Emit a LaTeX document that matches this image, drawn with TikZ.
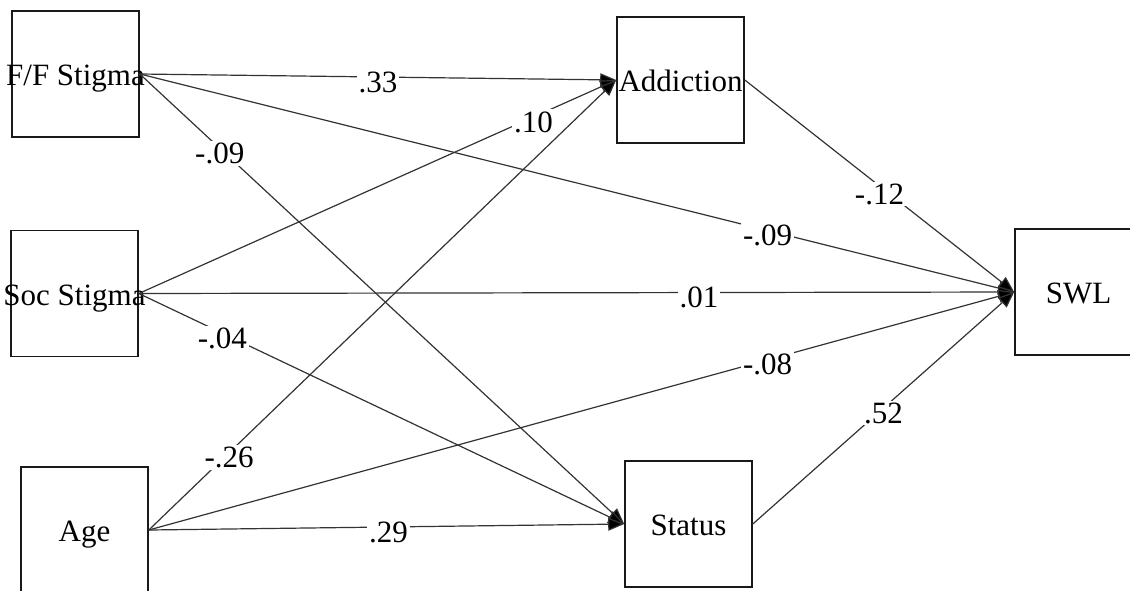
\documentclass[tikz,border=0pt]{standalone}
\usepackage{fontspec}
\setmainfont{Liberation Serif}
\usetikzlibrary{arrows.meta}
\tikzstyle{box}=[draw=black!90, line width=1.6pt, minimum width=127pt, minimum height=126pt,
  inner sep=0pt, text height=23pt, text depth=0pt, font=\fontsize{31}{36}\selectfont]
\tikzstyle{arrow}=[-{Triangle[length=16pt,width=13pt,fill=black]}, line width=1.2pt, draw=black!80]
\tikzstyle{coef}=[fill=white, inner sep=2pt, yshift=-5pt, font=\fontsize{31}{36}\selectfont]
\newcommand{\vname}[1]{\makebox[0pt]{#1}}

\begin{document}
\begin{tikzpicture}[x=1pt, y=-1pt]
      \useasboundingbox (0,0) rectangle (1130,590);

      % predictors
      \node[box] (ff)  at (75.5,74)   {\vname{F/F Stigma}};
      \node[box] (soc) at (74.5,293.5) {\vname{Soc Stigma}};
      \node[box] (age) at (84.5,530)  {\vname{Age}};

      % mediators and outcome
      \node[box] (add)  at (680.5,80)  {\vname{Addiction}};
      \node[box] (stat) at (688.5,524) {\vname{Status}};
      \node[box] (swl)  at (1078.5,292) {\vname{SWL}};

      \draw[arrow] (ff.east) -- node[coef, pos=0.5] {.33} (add.west);
      \draw[arrow] (ff.east) -- node[coef, pos=0.165] {-.09} (stat.west);
      \draw[arrow] (ff.east) -- node[coef, pos=0.718] {-.09} (swl.west);

      \draw[arrow] (soc.east) -- node[coef, pos=0.827] {.10} (add.west);
      \draw[arrow] (soc.east) -- node[coef, pos=0.64] {.01} (swl.west);
      \draw[arrow] (soc.east) -- node[coef, pos=0.172] {-.04} (stat.west);

      \draw[arrow] (age.east) -- node[coef, pos=0.172] {-.26} (add.west);
      \draw[arrow] (age.east) -- node[coef, pos=0.715] {-.08} (swl.west);
      \draw[arrow] (age.east) -- node[coef, pos=0.504] {.29} (stat.west);

      \draw[arrow] (add.east) -- node[coef, pos=0.5, yshift=-3pt] {-.12} (swl.west);
      \draw[arrow] (stat.east) -- node[coef, pos=0.5] {.52} (swl.west);
\end{tikzpicture}
\end{document}
